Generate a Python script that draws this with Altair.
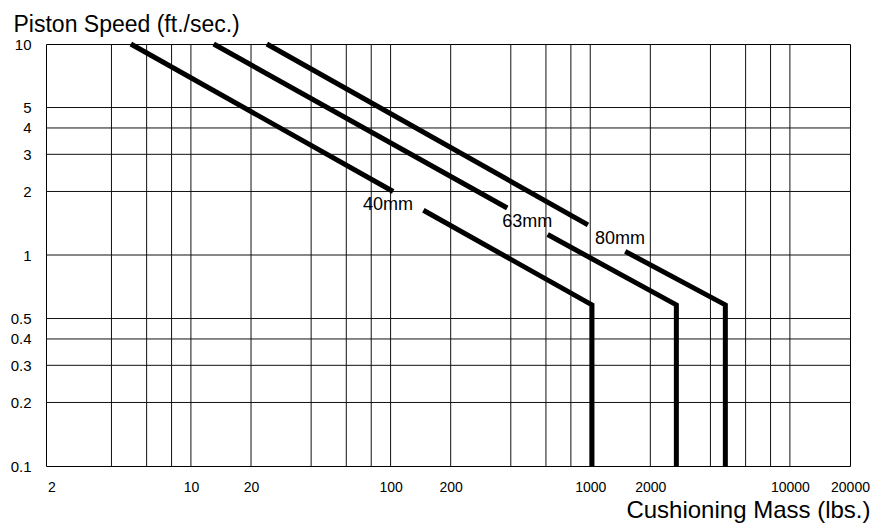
import altair as alt
import pandas as pd

# ---- data ----
series_names = ["40mm", "63mm", "80mm"]

mm40_mass = [5, 103, 146, 1020, 1020]
mm40_speed = [10, 2.0, 1.63, 0.58, 0.1]
mm63_mass = [13, 384, 612, 2700, 2700]
mm63_speed = [10, 1.67, 1.25, 0.58, 0.1]
mm80_mass = [24, 974, 1497, 4750, 4750]
mm80_speed = [10, 1.39, 1.04, 0.58, 0.1]
segment_of_point = [0, 0, 1, 1, 1]  # line is broken where the label sits

label_mass = [97, 483, 1410]
label_speed = [1.72, 1.43, 1.19]

x_grid = [4, 6, 8, 10, 20, 40, 60, 80, 100, 200, 400, 600, 800,
          1000, 2000, 4000, 6000, 8000, 10000]
y_grid = [0.2, 0.3, 0.4, 0.5, 1, 2, 3, 4, 5]
x_ticks = [2, 10, 20, 100, 200, 1000, 2000, 10000, 20000]
y_ticks = [0.1, 0.2, 0.3, 0.4, 0.5, 1, 2, 3, 4, 5, 10]

FONT = "Liberation Sans"

rows = []
for name, xs, ys in [("40mm", mm40_mass, mm40_speed),
                     ("63mm", mm63_mass, mm63_speed),
                     ("80mm", mm80_mass, mm80_speed)]:
    for i, (xv, yv) in enumerate(zip(xs, ys)):
        rows.append({"series": name, "seg": f"{name}-{segment_of_point[i]}",
                     "ord": i, "mass": xv, "speed": yv})
lines_df = pd.DataFrame(rows)
labels_df = pd.DataFrame({"text": series_names, "mass": label_mass,
                          "speed": label_speed})
xg_df = pd.DataFrame({"mass": x_grid})
yg_df = pd.DataFrame({"speed": y_grid})

xscale = alt.Scale(type="log", domain=[1.88, 20000], nice=False)
yscale = alt.Scale(type="log", domain=[0.1, 10], nice=False)

x_axis = alt.Axis(values=x_ticks, format="~g", grid=False, ticks=False,
                  domain=False, labelOverlap=False, labelFlush=False,
                  labelPadding=14, labelFontSize=14, labelFont=FONT,
                  labelColor="black",
                  title="Cushioning Mass (lbs.)", titleFont=FONT,
                  titleFontSize=24, titleFontWeight="normal",
                  titleColor="black", titleAlign="right", titleAnchor="end",
                  titleX=824, titleY=51, titleBaseline="alphabetic")
y_axis = alt.Axis(values=y_ticks, format="~g", grid=False, ticks=False,
                  domain=False, labelOverlap=False, labelFlush=False,
                  labelPadding=15, labelFontSize=15, labelFont=FONT,
                  labelColor="black",
                  title="Piston Speed (ft./sec.)", titleFont=FONT,
                  titleFontSize=23, titleFontWeight="normal",
                  titleColor="black", titleAngle=0, titleAlign="left",
                  titleAnchor="start",
                  titleX=-33, titleY=-13, titleBaseline="alphabetic")

X = alt.X("mass:Q", scale=xscale, axis=x_axis)
Y = alt.Y("speed:Q", scale=yscale, axis=y_axis)

vgrid = alt.Chart(xg_df).mark_rule(color="#111", strokeWidth=1).encode(x=X)
hgrid = alt.Chart(yg_df).mark_rule(color="#111", strokeWidth=1).encode(y=Y)

lines = alt.Chart(lines_df).mark_line(
    color="black", strokeWidth=5, strokeJoin="miter", strokeCap="butt"
).encode(x=X, y=Y, detail="seg:N", order="ord:Q")

labels = alt.Chart(labels_df).mark_text(
    font=FONT, fontSize=18, color="black", align="center", baseline="middle"
).encode(x=X, y=Y, text="text:N")

chart = alt.layer(vgrid, hgrid, lines, labels).properties(
    width=804, height=422,
    autosize=alt.AutoSizeParams(type="none"),
    padding={"left": 38, "top": 36, "right": 21, "bottom": 57},
    background="white",
).configure_view(stroke="black", strokeWidth=1)

chart.save("out.html", embed_options={"renderer": "svg", "actions": False})
